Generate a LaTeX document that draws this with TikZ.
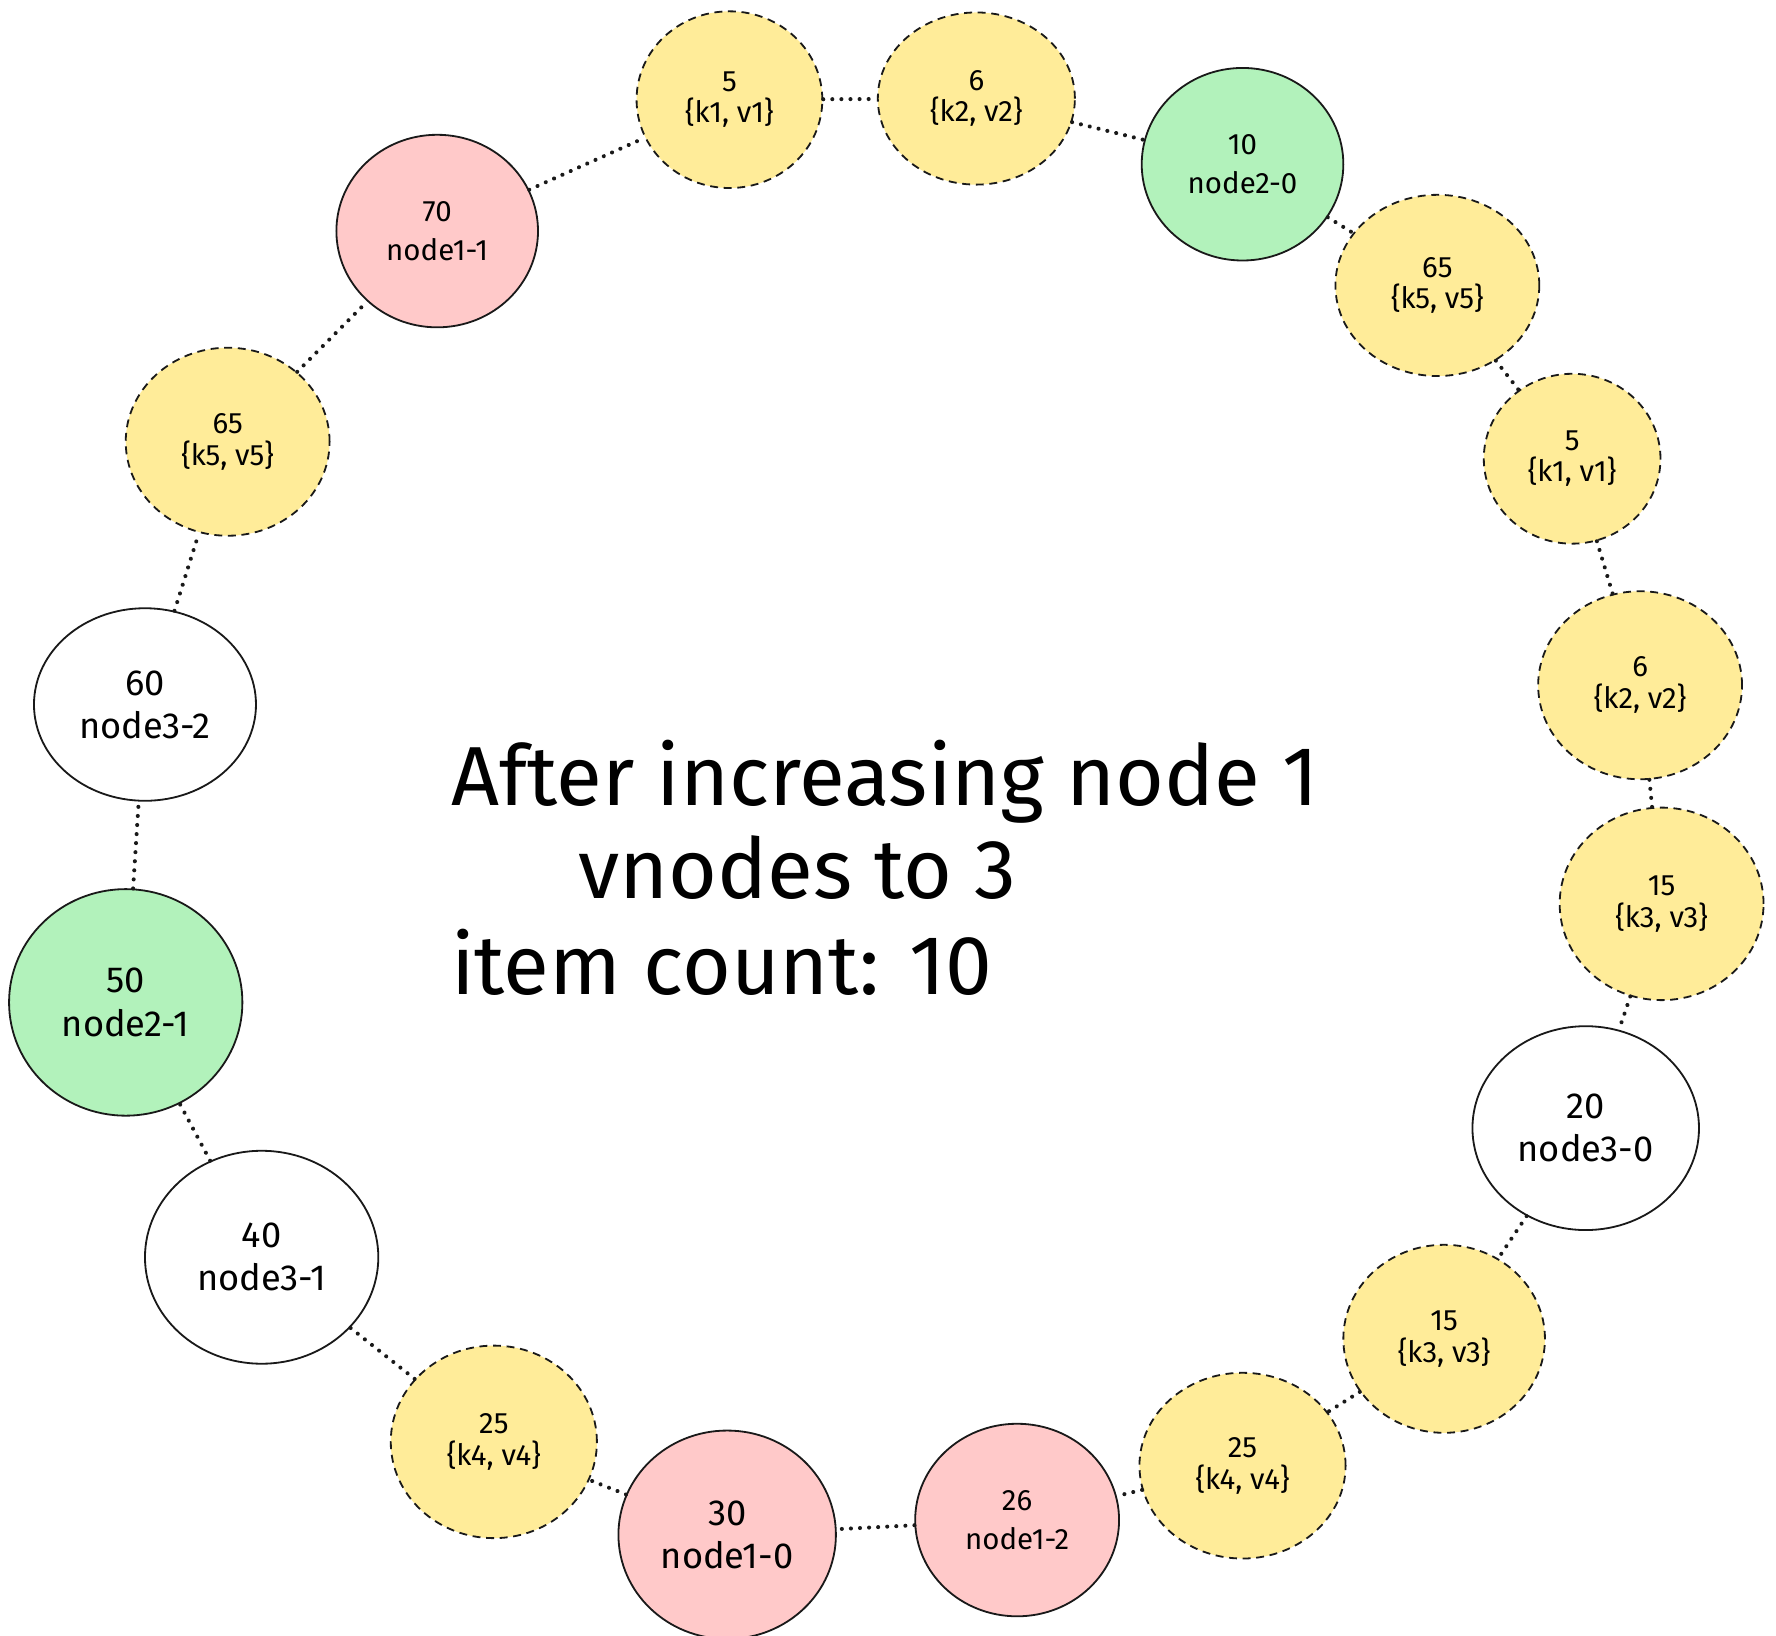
\documentclass[tikz,border=0pt]{standalone}
\usepackage{fontspec}
\setmainfont{Fira Sans}
\usetikzlibrary{shapes.geometric}

\definecolor{kvyellow}{HTML}{FFEC99}
\definecolor{vred}{HTML}{FFC9C9}
\definecolor{vgreen}{HTML}{B2F2BB}

\begin{document}
\begin{tikzpicture}
  [x=0.5pt,y=-0.5pt,
   vnode/.style={ellipse,draw=black!90,line width=0.8pt,align=center,inner sep=0pt,
                 font=\fontsize{13}{17}\selectfont},
   bigtext/.style={font=\fontsize{16}{19}\selectfont},
   kvnode/.style={ellipse,draw=black!90,line width=0.8pt,dash pattern=on 3.5pt off 2.5pt,
                  fill=kvyellow,align=center,inner sep=0pt,font=\fontsize{13}{14}\selectfont},
   sz/.style 2 args={minimum width=#1pt,minimum height=#2pt},
   link/.style={draw=black!90,line width=1.8pt,line cap=round,dash pattern=on 0.01pt off 4pt},
   title/.style={anchor=base west,inner sep=0pt,font=\fontsize{37}{42}\selectfont}]

  \useasboundingbox (0,0) rectangle (1568,1444);

  % vnodes on the ring
  \node[vnode,fill=vred,sz={89}{85}] (n70) at (386,204) {70\\node1-1};
  \node[vnode,fill=vgreen,sz={89}{85}] (n10) at (1097,145) {10\\node2-0};
  \node[vnode,bigtext,fill=white,sz={100}{90}] (n20) at (1400,996) {20\\node3-0};
  \node[vnode,fill=vred,sz={90}{85}] (n26) at (898,1342) {26\\node1-2};
  \node[vnode,bigtext,fill=vred,sz={96}{92}] (n30) at (642,1355) {30\\node1-0};
  \node[vnode,bigtext,fill=white,sz={103}{94}] (n40) at (231,1110) {40\\node3-1};
  \node[vnode,bigtext,fill=vgreen,sz={103}{100}] (n50) at (111,885) {50\\node2-1};
  \node[vnode,bigtext,fill=white,sz={98}{85}] (n60) at (128,622) {60\\node3-2};

  % keys
  \node[kvnode,sz={82}{78}] (k5a) at (644,88) {5\\\{k1, v1\}};
  \node[kvnode,sz={87}{76}] (k6a) at (862,87) {6\\\{k2, v2\}};
  \node[kvnode,sz={90}{80}] (k65a) at (1269,252) {65\\\{k5, v5\}};
  \node[kvnode,sz={78}{75}] (k5b) at (1388,405) {5\\\{k1, v1\}};
  \node[kvnode,sz={90}{83}] (k6b) at (1448,605) {6\\\{k2, v2\}};
  \node[kvnode,sz={90}{85}] (k15a) at (1467,798) {15\\\{k3, v3\}};
  \node[kvnode,sz={89}{83}] (k15b) at (1275,1182) {15\\\{k3, v3\}};
  \node[kvnode,sz={91}{82}] (k25a) at (1097,1294) {25\\\{k4, v4\}};
  \node[kvnode,sz={91}{85}] (k25b) at (436,1273) {25\\\{k4, v4\}};
  \node[kvnode,sz={90}{83}] (k65b) at (201,390) {65\\\{k5, v5\}};

  \foreach \from/\to in {n70/k5a,k5a/k6a,k6a/n10,n10/k65a,k65a/k5b,k5b/k6b,k6b/k15a,
                         k15a/n20,n20/k15b,k15b/k25a,k25a/n26,n26/n30,n30/k25b,k25b/n40,
                         n40/n50,n50/n60,n60/k65b,k65b/n70}
    \draw[link] (\from) -- (\to);

  \node[title] (t1) at (398,711) {After increasing node 1};
  \node[title] (t2) at (510,793) {vnodes to 3};
  \node[title] (t3) at (398,878) {item count: 10};

\end{tikzpicture}
\end{document}
